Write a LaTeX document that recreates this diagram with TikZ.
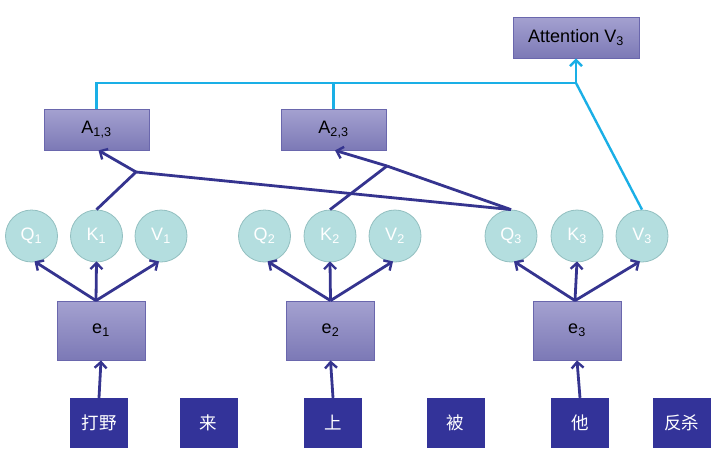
\documentclass[tikz,border=0pt]{standalone}
\usepackage{fontspec}
\setmainfont{Liberation Sans}
\newfontfamily\cjk{Noto Sans CJK SC}
\usetikzlibrary{arrows.meta}
\definecolor{boxtop}{HTML}{A4A1D0}
\definecolor{boxbot}{HTML}{7C79B6}
\definecolor{boxline}{HTML}{6A67AD}
\definecolor{circfill}{HTML}{B4DEDF}
\definecolor{circline}{HTML}{92BFC0}
\definecolor{navy}{HTML}{333399}
\definecolor{darkline}{HTML}{35348F}
\definecolor{cyanline}{HTML}{1AAFE6}
\tikzset{
  pbox/.style={rectangle, draw=boxline, line width=0.8pt, top color=boxtop, bottom color=boxbot,
    minimum width=#1, minimum height=41pt, inner sep=0pt, font=\fontsize{18}{18}\selectfont},
  ebox/.style={rectangle, draw=boxline, line width=0.8pt, top color=boxtop, bottom color=boxbot,
    minimum width=88pt, minimum height=59pt, inner sep=0pt, font=\fontsize{18}{18}\selectfont},
  qkv/.style={circle, draw=circline, line width=0.8pt, fill=circfill, minimum size=52pt, inner sep=0pt,
    text=white, font=\fontsize{18}{18}\selectfont},
  word/.style={rectangle, fill=navy, minimum width=58pt, minimum height=50pt, inner sep=0pt,
    text=white, font=\cjk\fontsize{17.5}{17.5}\selectfont},
  darr/.style={draw=darkline, line width=2.8pt, -{Straight Barb[length=6pt,width=12pt,line width=2.4pt]}},
  dline/.style={draw=darkline, line width=2.8pt},
  cline/.style={draw=cyanline, line width=2.4pt},
  carr/.style={draw=cyanline, line width=2.4pt, -{Straight Barb[length=6pt,width=12pt,line width=2.4pt]}},
}
\begin{document}
\begin{tikzpicture}[x=1pt,y=-1pt]
\useasboundingbox (0,0) rectangle (720,464);
% top boxes
\node[pbox=126pt] (att) at (576,37.5) {Attention V\textsubscript{3}};
\node[pbox=105pt] (a13) at (96.5,129.5) {A\textsubscript{1,3}};
\node[pbox=105pt] (a23) at (333.5,129.5) {A\textsubscript{2,3}};
% circles
\node[qkv] (q1) at (31.5,236) {Q\textsubscript{1}};
\node[qkv] (k1) at (96.5,236) {K\textsubscript{1}};
\node[qkv] (v1) at (161,236) {V\textsubscript{1}};
\node[qkv] (q2) at (264.5,236) {Q\textsubscript{2}};
\node[qkv] (k2) at (330,236) {K\textsubscript{2}};
\node[qkv] (v2) at (395,236) {V\textsubscript{2}};
\node[qkv] (q3) at (511,236) {Q\textsubscript{3}};
\node[qkv] (k3) at (577,236) {K\textsubscript{3}};
\node[qkv] (v3) at (642,236) {V\textsubscript{3}};
% e boxes
\node[ebox] (e1) at (101,330.5) {e\textsubscript{1}};
\node[ebox] (e2) at (330.5,330.5) {e\textsubscript{2}};
\node[ebox] (e3) at (577,330.5) {e\textsubscript{3}};
% words
\node[word] (w1) at (99,423) {打野};
\node[word] (w2) at (208.5,423) {来};
\node[word] (w3) at (333,423) {上};
\node[word] (w4) at (455.5,423) {被};
\node[word] (w5) at (580,423) {他};
\node[word] (w6) at (681.5,423) {反杀};
% coordinates
\coordinate (e1t) at ([xshift=-5pt]e1.north);
\coordinate (e2t) at (e2.north);
\coordinate (e3t) at ([xshift=-2pt]e3.north);
\coordinate (j1) at (136,172);
\coordinate (j2) at (387,166);
\coordinate (cj) at (576,83);
% word -> e
\draw[darr] (w1.north) -- (e1.south);
\draw[darr] (w3.north) -- (e2.south);
\draw[darr] (w5.north) -- (e3.south);
% e -> qkv
\foreach \e/\q/\k/\v in {e1t/q1/k1/v1, e2t/q2/k2/v2, e3t/q3/k3/v3}{
  \draw[darr] (\e) -- ([xshift=3pt,yshift=1pt]\q.south);
  \draw[darr] (\e) -- ([yshift=1pt]\k.south);
  \draw[darr] (\e) -- ([xshift=-2pt,yshift=1pt]\v.south);
}
% attention lines
\draw[dline] (k1.north) -- (j1);
\draw[darr] (j1) -- ([xshift=2pt]a13.south);
\draw[dline] (j1) -- (q3.north);
\draw[dline] (k2.north) -- (j2);
\draw[darr] (j2) -- ([xshift=1.5pt]a23.south);
\draw[dline] (j2) -- (q3.north);
% cyan lines
\draw[cline] (a13.north) |- (cj);
\draw[cline] (a23.north) -- (a23.north |- cj);
\draw[cline] (v3.north) -- (cj);
\draw[carr] (cj) -- (att.south);
\end{tikzpicture}
\end{document}
